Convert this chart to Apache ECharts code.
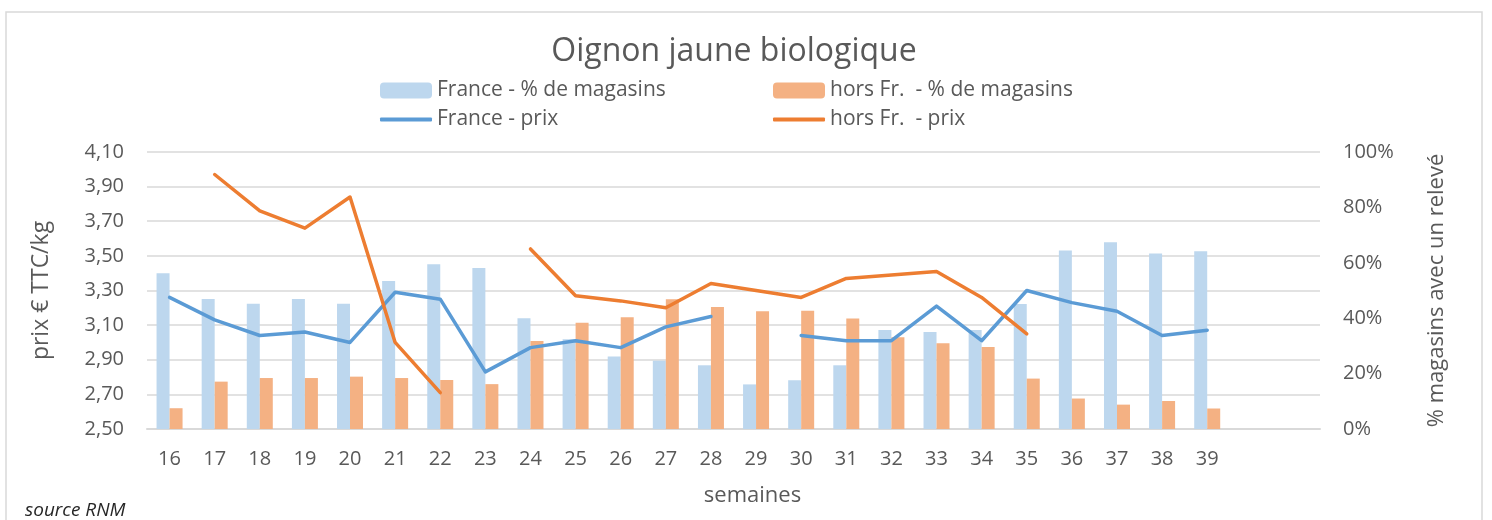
<!DOCTYPE html>
<html>
<head>
<meta charset="utf-8">
<title>Oignon jaune biologique</title>
<script src="https://cdn.jsdelivr.net/npm/echarts@6/dist/echarts.min.js"></script>
<style>
  html, body { margin: 0; padding: 0; background: #ffffff; }
  #chart { width: 1492px; height: 520px; }
</style>
</head>
<body>
<div id="chart"></div>
<script>
// Semaines relevées (deux emplacements vides en fin d'axe)
var weeks = ['16','17','18','19','20','21','22','23','24','25','26','27',
             '28','29','30','31','32','33','34','35','36','37','38','39'];
var trailingSlots = ['', ''];

// % de magasins avec un relevé
var francePct = [56.2, 46.9, 45.2, 46.9, 45.2, 53.4, 59.5, 58.1, 40.0, 32.4, 26.2, 24.6,
                 23.0, 16.1, 17.6, 23.0, 35.7, 35.0, 35.7, 45.1, 64.4, 67.4, 63.4, 64.2];
var horsFrPct = [7.5, 17.1, 18.4, 18.4, 18.9, 18.4, 17.7, 16.2, 31.8, 38.4, 40.3, 46.8,
                 44.0, 42.5, 42.7, 39.9, 33.1, 31.0, 29.6, 18.2, 11.0, 8.8, 10.1, 7.4];

// Prix moyen en € TTC/kg
var francePrix = [3.26, 3.13, 3.04, 3.06, 3.00, 3.29, 3.25, 2.83, 2.97, 3.01, 2.97, 3.09,
                  3.15, null, 3.04, 3.01, 3.01, 3.21, 3.01, 3.30, 3.23, 3.18, 3.04, 3.07];
var horsFrPrix = [null, 3.97, 3.76, 3.66, 3.84, 3.00, 2.71, null, 3.54, 3.27, 3.24, 3.20,
                  3.34, 3.30, 3.26, 3.37, 3.39, 3.41, 3.26, 3.05, null, null, null, null];

// Bornes des axes
var prixMin = 2.5, prixMax = 4.1, prixStep = 0.2;
var pctMin = 0, pctMax = 100, pctStep = 20;

var FONT = 'Open Sans';
var GREY_TEXT = '#595959';
var GRID_LINE = '#d9d9d9';

var chart = echarts.init(document.getElementById('chart'), null, { renderer: 'canvas' });

function legendAt(name, left, top, lineIcon) {
  var l = {
    data: [name],
    left: left,
    top: top,
    padding: 0,
    itemWidth: 52,
    itemHeight: lineIcon ? 4 : 16,
    selectedMode: false,
    textStyle: { fontFamily: FONT, fontSize: 21, color: GREY_TEXT }
  };
  if (lineIcon) {
    l.icon = 'roundRect';
  }
  return l;
}

var option = {
  backgroundColor: '#ffffff',
  animation: false,
  title: {
    text: 'Oignon jaune biologique',
    left: 729,
    top: 31,
    textAlign: 'center',
    textStyle: { fontFamily: FONT, fontSize: 32, fontWeight: 'normal', color: GREY_TEXT }
  },
  legend: [
    legendAt('France - % de magasins', 380, 80, false),
    legendAt('hors Fr.  - % de magasins', 773, 80, false),
    legendAt('France - prix', 380, 109, true),
    legendAt('hors Fr.  - prix', 773, 109, true)
  ],
  grid: { left: 147, right: 172, top: 152, bottom: 91, containLabel: false },
  xAxis: {
    type: 'category',
    data: weeks.concat(trailingSlots),
    boundaryGap: true,
    name: 'semaines',
    nameLocation: 'middle',
    nameGap: 56,
    nameTextStyle: { fontFamily: FONT, fontSize: 22, color: GREY_TEXT, padding: [0, 0, 0, 38] },
    axisLine: { show: true, lineStyle: { color: GRID_LINE, width: 2 } },
    axisTick: { show: false },
    axisLabel: { fontFamily: FONT, fontSize: 20, color: GREY_TEXT, margin: 20, interval: 0 },
    splitLine: { show: false }
  },
  yAxis: [
    {
      type: 'value',
      position: 'left',
      min: prixMin,
      max: prixMax,
      interval: prixStep,
      name: 'prix € TTC/kg',
      nameLocation: 'middle',
      nameRotate: 90,
      nameGap: 94,
      nameTextStyle: { fontFamily: FONT, fontSize: 23, color: GREY_TEXT },
      axisLine: { show: false },
      axisTick: { show: false },
      axisLabel: {
        fontFamily: FONT, fontSize: 20, color: GREY_TEXT, margin: 23,
        formatter: function (v) { return v.toFixed(2).replace('.', ','); }
      },
      splitLine: { show: true, lineStyle: { color: GRID_LINE, width: 1.5 } }
    },
    {
      type: 'value',
      position: 'right',
      min: pctMin,
      max: pctMax,
      interval: pctStep,
      name: '% magasins avec un relevé',
      nameLocation: 'middle',
      nameRotate: 90,
      nameGap: 106,
      nameTextStyle: { fontFamily: FONT, fontSize: 22, color: GREY_TEXT },
      axisLine: { show: false },
      axisTick: { show: false },
      axisLabel: { fontFamily: FONT, fontSize: 20, color: GREY_TEXT, margin: 23, formatter: '{value}%' },
      splitLine: { show: false }
    }
  ],
  series: [
    {
      name: 'France - % de magasins',
      type: 'bar',
      yAxisIndex: 1,
      data: francePct,
      barWidth: 13,
      barGap: '0%',
      itemStyle: { color: '#BDD7EE' },
      z: 1
    },
    {
      name: 'hors Fr.  - % de magasins',
      type: 'bar',
      yAxisIndex: 1,
      data: horsFrPct,
      barWidth: 13,
      barGap: '0%',
      itemStyle: { color: '#F4B183' },
      z: 1
    },
    {
      name: 'France - prix',
      type: 'line',
      yAxisIndex: 0,
      data: francePrix,
      symbol: 'none',
      connectNulls: false,
      lineStyle: { color: '#5B9BD5', width: 3.5, cap: 'round', join: 'round' },
      itemStyle: { color: '#5B9BD5' },
      z: 3
    },
    {
      name: 'hors Fr.  - prix',
      type: 'line',
      yAxisIndex: 0,
      data: horsFrPrix,
      symbol: 'none',
      connectNulls: false,
      lineStyle: { color: '#ED7D31', width: 3.5, cap: 'round', join: 'round' },
      itemStyle: { color: '#ED7D31' },
      z: 3
    }
  ],
  graphic: [
    {
      type: 'rect',
      shape: { x: 6, y: 12, width: 1476, height: 530 },
      style: { fill: null, stroke: GRID_LINE, lineWidth: 1.5 },
      silent: true,
      z: -1
    },
    {
      type: 'text',
      left: 25,
      top: 501,
      style: { text: 'source RNM', font: 'italic 19px "Open Sans"', fill: '#262626' },
      silent: true
    }
  ]
};

chart.setOption(option);
</script>
</body>
</html>
